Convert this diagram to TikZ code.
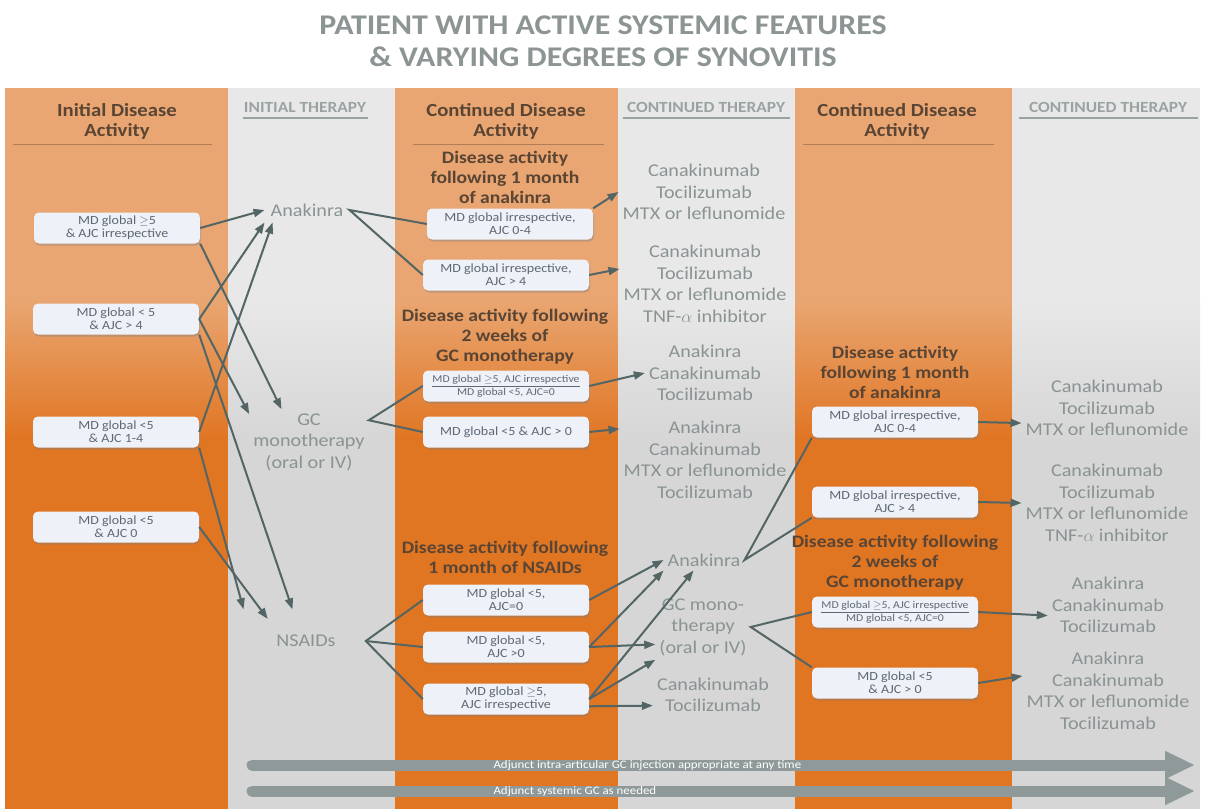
\documentclass[tikz,border=0pt]{standalone}
\usepackage{fontspec}
\setmainfont{Carlito}[FakeStretch=1.12]
\usetikzlibrary{arrows.meta,shadows,positioning}

\definecolor{orlight}{HTML}{E9A672}
\definecolor{ordark}{HTML}{E07522}
\definecolor{grlight}{HTML}{E8E8E8}
\definecolor{grdark}{HTML}{D6D6D6}
\definecolor{headbrown}{HTML}{5A4534}
\definecolor{capgrey}{HTML}{9AA3A3}
\definecolor{druggrey}{HTML}{8A9393}
\definecolor{linegrey}{HTML}{536565}
\definecolor{boxfill}{HTML}{EEF1F7}
\definecolor{boxtext}{HTML}{5E6875}
\definecolor{bandgrey}{HTML}{8F9999}
\definecolor{titlegrey}{HTML}{8C9494}

\begin{document}
\begin{tikzpicture}[x=1pt,y=-1pt,
    colhead/.style={font=\fontsize{18.5}{20}\selectfont\bfseries, text=headbrown, align=center},
    capshead/.style={font=\fontsize{15.5}{17}\selectfont\bfseries, text=capgrey},
    subhead/.style={font=\fontsize{17.5}{20}\selectfont\bfseries, text=headbrown, align=center},
    cond/.style={rounded corners=5pt, fill=boxfill, minimum width=166pt, minimum height=31pt,
      inner sep=2pt, font=\fontsize{12.5}{13}\selectfont, text=boxtext, align=center,
      drop shadow={shadow xshift=1pt, shadow yshift=-2pt, opacity=.4}},
    smallcond/.style={cond, font=\fontsize{10.5}{12.5}\selectfont},
    drug/.style={font=\fontsize{18}{21.5}\selectfont, text=druggrey, align=center, inner sep=4pt},
    flow/.style={draw=linegrey, line width=2pt, -{Triangle[length=11pt,width=8pt]}},
    fork/.style={draw=linegrey, line width=2pt},
    adjunct/.style={draw=bandgrey, line width=11pt, line cap=round, -{Triangle[length=30pt,width=26pt]}},
    adjtext/.style={font=\fontsize{11.5}{12}\selectfont, text=white, anchor=west},
  ]
  \useasboundingbox (0,0) rectangle (1206,809);
  \fill[white] (0,0) rectangle (1206,809);

  % columns
  \foreach \a/\b/\tone in {5/228/or, 228/395/gr, 395/618/or, 618/795/gr, 795/1012/or, 1012/1200/gr}{
    \fill[\tone light] (\a,88) rectangle (\b,300);
    \shade[top color=\tone light, bottom color=\tone dark] (\a,299) rectangle (\b,441);
    \fill[\tone dark] (\a,440) rectangle (\b,809);
  }

  \node[font=\fontsize{28.5}{32}\selectfont\bfseries, text=titlegrey, align=center] (title) at (603,41)
    {PATIENT WITH ACTIVE SYSTEMIC FEATURES\\\& VARYING DEGREES OF SYNOVITIS};

  % headers
  \node[colhead] (h1) at (117,121) {Initial Disease\\Activity};
  \node[capshead] (h2) at (305,107) {INITIAL THERAPY};
  \node[colhead] (h3) at (506,121) {Continued Disease\\Activity};
  \node[capshead] (h4) at (706,107) {CONTINUED THERAPY};
  \node[colhead] (h5) at (897,121) {Continued Disease\\Activity};
  \node[capshead] (h6) at (1108,107) {CONTINUED THERAPY};
  \draw[headbrown!40!orlight, line width=.8pt] (13,144) -- (212,144) (413,144) -- (604,144) (803,144) -- (994,144);
  \draw[capgrey, line width=1.5pt] (243,118) -- (368,118) (623,118) -- (790,118) (1019,118) -- (1198,118);

  % initial disease activity
  \node[cond] (b1) at (117,228) {MD global $\geq$5\\\& AJC irrespective};
  \node[cond] (b2) at (116,319) {MD global < 5\\\& AJC > 4};
  \node[cond] (b3) at (116,432) {MD global <5\\\& AJC 1-4};
  \node[cond] (b4) at (116,527) {MD global <5\\\& AJC 0};

  % initial therapy
  \node[drug, inner xsep=6pt, inner ysep=6pt] (ana1) at (307,210) {Anakinra};
  \node[drug] (gc1) at (309,442) {GC\\monotherapy\\(oral or IV)};
  \node[drug, inner xsep=30pt, inner ysep=16pt] (ns1) at (306,641) {NSAIDs};

  % continued disease activity
  \node[subhead] (s1) at (505,177) {Disease activity\\following 1 month\\of anakinra};
  \node[cond] (c1) at (510,224) {MD global irrespective,\\AJC 0-4};
  \node[cond] (c2) at (506,275) {MD global irrespective,\\AJC > 4};
  \node[subhead] (s2) at (505,337) {Disease activity following\\2 weeks of\\GC monotherapy};
  \node[smallcond] (c3) at (506,386) {\underline{MD global $\geq$5, AJC irrespective}\\MD global <5, AJC=0};
  \node[cond] (c4) at (506,432) {MD global <5 \& AJC > 0};
  \node[subhead] (s3) at (505,557) {Disease activity following\\1 month of NSAIDs};
  \node[cond] (c5) at (506,600) {MD global <5,\\AJC=0};
  \node[cond] (c6) at (506,647) {MD global <5,\\AJC >0};
  \node[cond] (c7) at (506,699) {MD global $\geq$5,\\AJC irrespective};

  % continued therapy
  \node[drug] (t1) at (704,192) {Canakinumab\\Tocilizumab\\MTX or leflunomide};
  \node[drug] (t2) at (705,284) {Canakinumab\\Tocilizumab\\MTX or leflunomide\\TNF-$\alpha$ inhibitor};
  \node[drug] (t3) at (705,373) {Anakinra\\Canakinumab\\Tocilizumab};
  \node[drug] (t4) at (705,460) {Anakinra\\Canakinumab\\MTX or leflunomide\\Tocilizumab};
  \node[drug] (t5) at (704,560) {Anakinra};
  \node[drug] (t6) at (703,627) {GC mono-\\therapy\\(oral or IV)};
  \node[drug] (t7) at (713,695) {Canakinumab\\Tocilizumab};

  % second continued disease activity
  \node[subhead] (s4) at (895,372) {Disease activity\\following 1 month\\of anakinra};
  \node[cond] (d1) at (895,422) {MD global irrespective,\\AJC 0-4};
  \node[cond] (d2) at (895,502) {MD global irrespective,\\AJC > 4};
  \node[subhead] (s5) at (895,563) {Disease activity following\\2 weeks of\\GC monotherapy};
  \node[smallcond] (d3) at (895,612) {\underline{MD global $\geq$5, AJC irrespective}\\MD global <5, AJC=0};
  \node[cond] (d4) at (895,683) {MD global <5\\\& AJC > 0};

  % second continued therapy
  \node[drug] (e1) at (1107,408) {Canakinumab\\Tocilizumab\\MTX or leflunomide};
  \node[drug] (e2) at (1107,503) {Canakinumab\\Tocilizumab\\MTX or leflunomide\\TNF-$\alpha$ inhibitor};
  \node[drug] (e3) at (1108,605) {Anakinra\\Canakinumab\\Tocilizumab};
  \node[drug] (e4) at (1108,691) {Anakinra\\Canakinumab\\MTX or leflunomide\\Tocilizumab};

  % arrows into initial therapy
  \draw[flow] (b1.east) -- (ana1.west);
  \draw[flow] (b1.south east) -- (gc1.130);
  \draw[flow] (b2.east) -- (ana1.south west);
  \draw[flow] (b2.east) -- (gc1.155);
  \draw[flow, shorten >=10pt] (b2.south east) -- (ns1.115);
  \draw[flow] (b3.east) -- (ana1.-160);
  \draw[flow, shorten >=10pt] (b3.south east) -- (ns1.north west);
  \draw[flow] (b4.east) -- (ns1.150);

  % forks into continued disease activity
  \draw[fork] (c1.west) -- (ana1.east) -- (c2.west);
  \draw[fork] (c3.west) -- (gc1.20) -- (c4.west);
  \draw[fork] (c5.west) -- (ns1.east) -- (c7.west);
  \draw[fork] (ns1.east) -- (c6.west);

  % arrows into continued therapy
  \draw[flow] (c1.north east) -- (t1.west);
  \draw[flow] (c2.east) -- (t2.170);
  \draw[flow] (c3.east) -- (t3.west);
  \draw[flow] (c4.east) -- (t4.160);
  \draw[flow] (c5.east) -- (t5.west);
  \draw[flow] (c6.east) -- (t5.south west);
  \draw[flow] (c6.east) -- (t6.-160);
  \draw[flow] (c7.east) -- (t5.-135);
  \draw[flow] (c7.east) -- (t6.south west);
  \draw[flow] (c7.-5) -- (t7.-170);

  % forks into second continued disease activity
  \draw[fork] (d1.south west) -- (t5.east) -- (d2.south west);
  \draw[fork] (d3.west) -- (t6.east) -- (d4.north west);

  % arrows into second continued therapy
  \draw[flow] (d1.east) -- (e1.-170);
  \draw[flow] (d2.east) -- (e2.west);
  \draw[flow] (d3.east) -- (e3.-170);
  \draw[flow] (d4.east) -- (e4.170);

  % adjunct bands
  \coordinate (adjA0) at (252,765);
  \coordinate (adjA1) at (1195,765);
  \coordinate (adjB0) at (252,791);
  \coordinate (adjB1) at (1195,791);
  \draw[adjunct] (adjA0) -- (adjA1);
  \draw[adjunct] (adjB0) -- (adjB1);
  \node[adjtext] (adjAtxt) at (490,765) {Adjunct intra-articular GC injection appropriate at any time};
  \node[adjtext] (adjBtxt) at (490,791) {Adjunct systemic GC as needed};
\end{tikzpicture}
\end{document}
